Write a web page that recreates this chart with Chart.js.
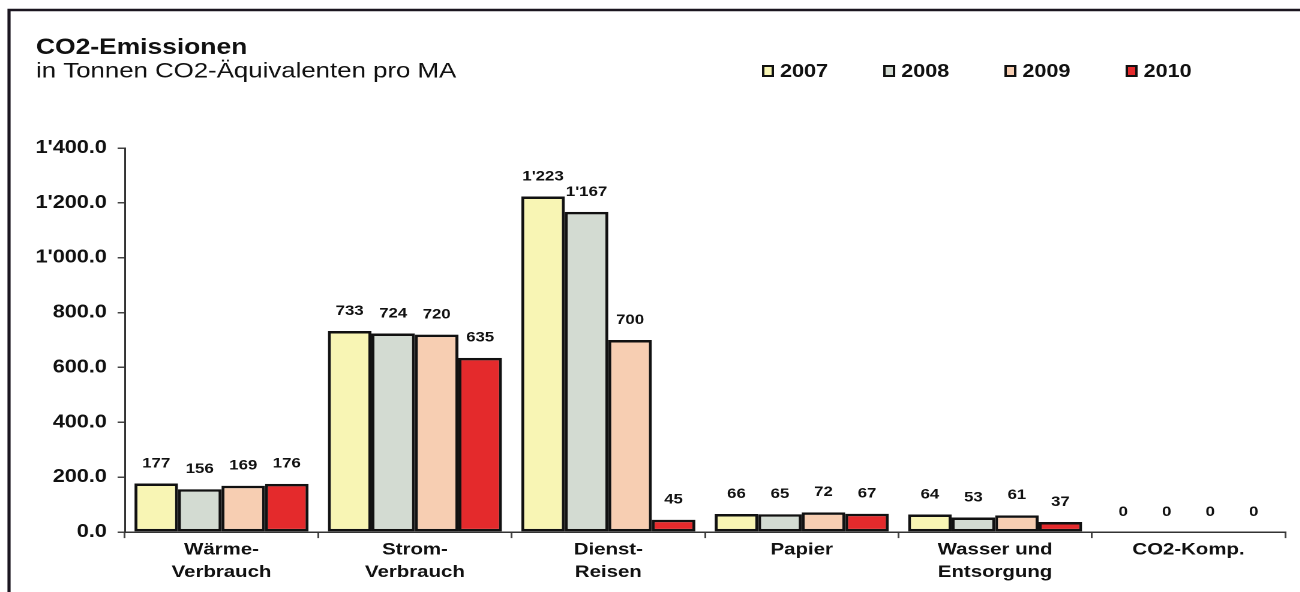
<!DOCTYPE html>
<html>
<head>
<meta charset="utf-8">
<script src="https://cdn.jsdelivr.net/npm/chart.js@4.4.1/dist/chart.umd.min.js"></script>
<style>
  html, body { margin: 0; padding: 0; background: #fff; overflow: hidden; }
  #wrap { position: relative; width: 1300px; height: 592px; overflow: hidden; }
  /* the scanned original is stretched sideways, so the whole drawing is too */
  #co2Chart { transform: scaleX(1.2); transform-origin: 0 0; }
</style>
</head>
<body>
<div id="wrap"><canvas id="co2Chart" width="1084" height="592"></canvas></div>
<script>
const categories = [
  ['Wärme-', 'Verbrauch'],
  ['Strom-', 'Verbrauch'],
  ['Dienst-', 'Reisen'],
  ['Papier'],
  ['Wasser und', 'Entsorgung'],
  ['CO2-Komp.']
];
const years = ['2007', '2008', '2009', '2010'];
const values2007 = [177, 733, 1223, 66, 64, 0];
const values2008 = [156, 724, 1167, 65, 53, 0];
const values2009 = [169, 720, 700, 72, 61, 0];
const values2010 = [176, 635, 45, 67, 37, 0];
const yTicks = [0, 200, 400, 600, 800, 1000, 1200, 1400];

const colors = ['#f8f5b4', '#d3dbd2', '#f7ceb2', '#e42a2c'];
const FONT = '"Liberation Sans", Arial, sans-serif';

// 1'223 style numbers
function swissNum(v, dec) {
  const parts = v.toFixed(dec).split('.');
  parts[0] = parts[0].replace(/\B(?=(\d{3})+(?!\d))/g, "'");
  return parts.join('.');
}

const frame = {
  id: 'frame',
  beforeDraw(chart) {
    const ctx = chart.ctx;
    ctx.save();
    ctx.fillStyle = '#fff';
    ctx.fillRect(0, 0, chart.width, chart.height);
    ctx.strokeStyle = '#1b1620';
    ctx.lineWidth = 2.6;
    ctx.beginPath();
    ctx.moveTo(7.5, chart.height);
    ctx.lineTo(7.5, 10);
    ctx.lineTo(chart.width, 10);
    ctx.stroke();
    ctx.restore();
  }
};

const barLabels = {
  id: 'barLabels',
  afterDatasetsDraw(chart) {
    const ctx = chart.ctx;
    ctx.save();
    ctx.font = 'bold 14px ' + FONT;
    ctx.fillStyle = '#111';
    ctx.textAlign = 'center';
    ctx.textBaseline = 'middle';
    chart.data.datasets.forEach((ds, i) => {
      chart.getDatasetMeta(i).data.forEach((bar, j) => {
        ctx.fillText(swissNum(ds.data[j], 0), bar.x, bar.y - 20);
      });
    });
    ctx.restore();
  }
};

const yearLegend = {
  id: 'yearLegend',
  afterDraw(chart) {
    const ctx = chart.ctx;
    ctx.save();
    ctx.font = 'bold 18px ' + FONT;
    ctx.textBaseline = 'middle';
    chart.data.datasets.forEach((ds, i) => {
      const x = 636 + i * 101;
      const y = 71;
      ctx.fillStyle = ds.backgroundColor;
      ctx.fillRect(x, y - 5, 8, 10);
      ctx.strokeStyle = '#111';
      ctx.lineWidth = 2;
      ctx.strokeRect(x, y - 5, 8, 10);
      ctx.fillStyle = '#111';
      ctx.fillText(ds.label, x + 14, y + 1);
    });
    ctx.restore();
  }
};

const datasets = [values2007, values2008, values2009, values2010].map((vals, i) => ({
  label: years[i],
  data: vals,
  backgroundColor: colors[i],
  borderColor: '#111',
  borderWidth: 2.5,
  borderSkipped: false,
  categoryPercentage: 0.9,
  barPercentage: 1.0
}));

const config = {
  type: 'bar',
  data: { labels: categories, datasets: datasets },
  options: {
    responsive: false,
    animation: false,
    devicePixelRatio: 2,
    layout: { padding: { left: 30, right: 13, top: 37, bottom: 8 } },
    plugins: {
      legend: { display: false },
      tooltip: { enabled: false },
      title: {
        display: true,
        text: 'CO2-Emissionen',
        align: 'start',
        color: '#111',
        font: { family: FONT, size: 22, weight: 'bold', lineHeight: 1.0 },
        padding: { top: 0, bottom: 2 }
      },
      subtitle: {
        display: true,
        text: 'in Tonnen CO2-Äquivalenten pro MA',
        align: 'start',
        color: '#111',
        font: { family: FONT, size: 21.5, lineHeight: 1.0 },
        padding: { top: 0, bottom: 65.5 }
      }
    },
    scales: {
      x: {
        offset: true,
        grid: { display: true, drawOnChartArea: false, drawTicks: true, tickLength: 6, offset: true, color: '#444', lineWidth: 1.5 },
        border: { display: true, color: '#333', width: 1.5 },
        ticks: { color: '#111', padding: 0, maxRotation: 0, autoSkip: false, font: { family: FONT, size: 17, weight: 'bold', lineHeight: 1.35 } }
      },
      y: {
        min: 0,
        max: 1400,
        afterBuildTicks(scale) { scale.ticks = yTicks.map(v => ({ value: v })); },
        afterFit(scale) { scale.width = 74; },
        grid: { display: true, drawOnChartArea: false, drawTicks: true, tickLength: 6, color: '#444', lineWidth: 1.5 },
        border: { display: true, color: '#333', width: 1.5 },
        ticks: {
          color: '#111',
          padding: 9,
          font: { family: FONT, size: 18, weight: 'bold' },
          callback: v => swissNum(v, 1)
        }
      }
    }
  },
  plugins: [frame, barLabels, yearLegend]
};

const co2Chart = new Chart(document.getElementById('co2Chart'), config);
</script>
</body>
</html>
